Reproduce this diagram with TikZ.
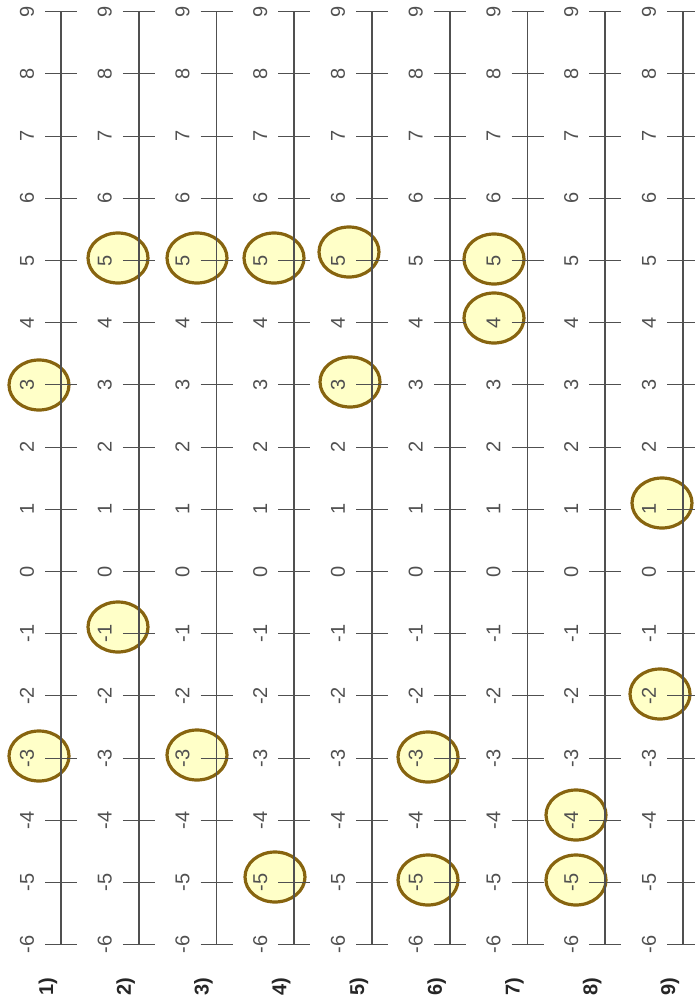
\documentclass[tikz,border=0pt]{standalone}
\usepackage{fontspec}
\setmainfont{Liberation Sans}
\definecolor{ringcol}{RGB}{135,100,15}
\definecolor{ringfill}{RGB}{255,255,200}
\definecolor{axiscol}{RGB}{80,80,80}
\begin{document}
\begin{tikzpicture}[x=1pt,y=-1pt,
  axis/.style={draw=axiscol,line width=1.8pt},
  tick/.style={draw=axiscol,line width=1.1pt},
  numlab/.style={text=axiscol,font=\fontsize{20}{20}\selectfont,rotate=90,inner sep=0pt},
  grplab/.style={text=black!85,font=\fontsize{20}{20}\selectfont\bfseries,rotate=90,inner sep=0pt},
  ring/.style={draw=ringcol,fill=ringfill,line width=3.2pt}]
\useasboundingbox (0,0) rectangle (694,1004);
% circles (behind everything)
\foreach \cx/\cy in {39/756, 39/385,
  118/258, 118/627,
  197/258, 197/755,
  274/258, 275/877,
  349/252, 350/382,
  428/757, 428/880,
  494/259, 494/318,
  576/815, 576/880,
  662/503, 660/694}
  {\draw[ring] (\cx,\cy) ellipse [x radius=30, y radius=25];}
% number lines
\foreach \i in {1,...,9}{
  \pgfmathsetmacro{\lx}{61+77.75*(\i-1)}
  \coordinate (top\i) at (\lx,11.7);
  \coordinate (bot\i) at (\lx,944.7);
  \draw[axis] (top\i) -- (bot\i);
  \foreach \n in {-6,...,9}{
    \pgfmathsetmacro{\ty}{571.5-62.2*\n}
    \coordinate (t\i n\n) at (\lx,\ty);
    \draw[tick] ([xshift=-16pt]t\i n\n) -- ([xshift=16pt]t\i n\n);
    \node[numlab] (l\i n\n) at ([xshift=-34pt]t\i n\n) {\n};
  }
  \node[grplab] (g\i) at (\lx-13,987) {\i)};
}
\end{tikzpicture}
\end{document}
